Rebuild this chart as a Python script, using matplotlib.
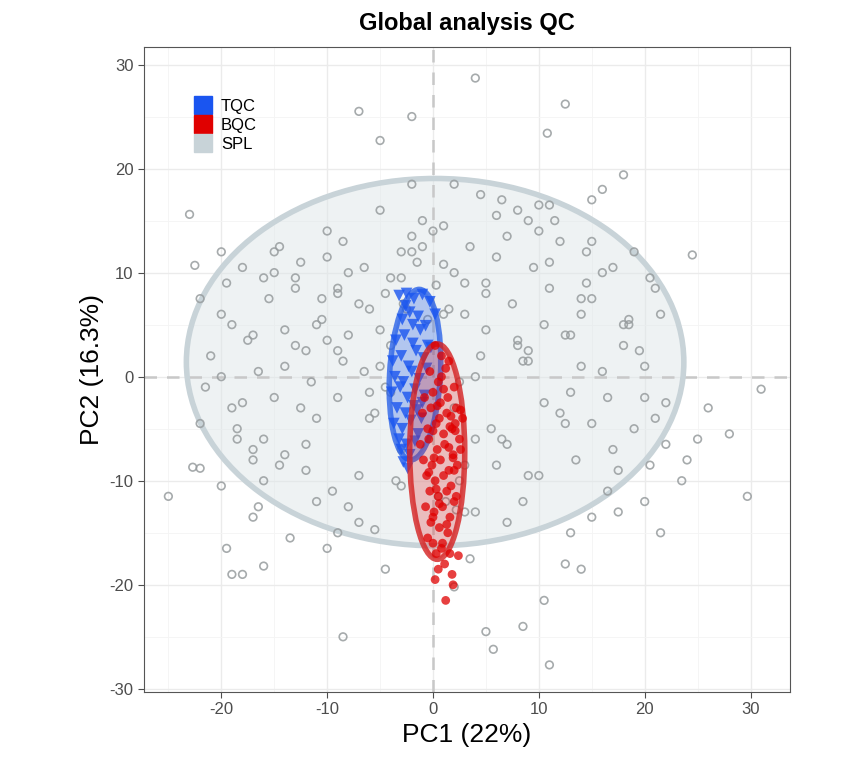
import numpy as np
import matplotlib.pyplot as plt
from matplotlib.patches import Ellipse
from matplotlib.lines import Line2D

plt.rcParams['font.family'] = ['Liberation Sans', 'DejaVu Sans']
plt.rcParams['axes.unicode_minus'] = False

# SPL samples (PC1, PC2)
spl_x = [-25, -23, -22.5, -22, -20, -19, -18, -19.5, -16, -16.5, -17, -8.5, -7, -2, -5, 4, 12.5, 10.8, 16, 18,
         15, 24.5, 21.5, 31, 28, 29.7, 20, 21.5, 10.5, 11, 8.5, 5, 5.7, 2, -4.5, -10, -9, -17, -22.7, -22,
         -20, -16, 24, 22, 25, 23.5, 20.5, 17.5, 14, 12.5, 3.5, -13.5, -5.5, 22, 26, -22,
         -21, -20, -19, -18, -17, -16, -15, -14, -13, -12, -11, -10, -9, -8, -7, -6, -5, -4, -3, -2,
         -21.5, -19.5, -18.5, -17.5, -15.5, -14.5, -12.5, -11.5, -10.5, -9.5, -8.5, -6.5, -5.5, -4.5, -3.5, -1,
         1, 2, 3, 4, 5, 6, 7, 8, 9, 10, 11, 12, 13, 14, 15, 16, 17, 18, 19, 20,
         1.5, 2.5, 3.5, 4.5, 5.5, 6.5, 7.5, 8.5, 9.5, 10.5, 11.5, 12.5, 13.5, 14.5, 16.5, 18.5, 20.5, 21, 19.5, 17.5,
         -20, -18, -16, -14, -12, -10, -8, -6, -4, -2, 0.5, 2, 4, 6, 8, 10, 12, 14, 16, 18,
         -19, -17, -15, -13, -11, -9, -7, -5, -3, 1, 3, 5, 7, 9, 11, 13, 15, 17, 19, 21,
         -18.5, -16.5, -14.5, -12.5, -10.5, -8.5, -6.5, -4.5, -2.5, 0, 2.5, 4.5, 6.5, 8.5, 10.5, 12.5, 14.5, 16.5, 18.5, 20,
         -13, -11, -9, -7, -5, -3, -1, 1, 3, 5, 7, 9, 11, 13, 15, -12, -8, -4, 4, 8,
         -15, -10, -6, -2, 2, 6, 10, 14, -14, -9, -3, 3, 9, 15, -1.5, 1.2, -2.8, 2.2, 0.3, -0.5]
spl_y = [-11.5, 15.6, 10.7, 7.5, 12, -19, -19, -16.5, -18.2, -12.5, -13.5, -25, 25.5, 25, 22.7, 28.7, 26.2, 23.4, 18, 19.4,
         17, 11.7, 6, -1.2, -5.5, -11.5, -12, -15, -21.5, -27.7, -24, -24.5, -26.2, -20.2, -18.5, -16.5, -15, -8, -8.7, -8.8,
         -10.5, -10, -8, -6.5, -6, -10, -8.5, -13, -18.5, -18, -17.5, -15.5, -14.7, -2.5, -3, -4.5,
         2, 6, -3, 10.5, 4, -6, 12, 1, 8.5, -9, 5, 14, -2, 10, 7, -4, 16, 3, -7, 12,
         -1, 9, -5, 3.5, 7.5, -8.5, 11, -0.5, 5.5, -11, 13, 0.5, -3.5, 8, -10, 15,
         14.5, -3, 9, -13, 4.5, 11.5, -6.5, 16, 1.5, -9.5, 8.5, 13, -1.5, 6, -4.5, 10, -7, 3, 12, -2,
         6.5, -10, 12.5, 2, -5, 17, 7, -12, 10.5, -2.5, 15, 4, -8, 9, -11, 5, 9.5, -4, 2.5, -9,
         0, -2.5, 9.5, -7.5, 2.5, 11.5, -12.5, 6.5, -1.5, 13.5, -11.5, 18.5, -6, 15.5, 3.5, 16.5, -3.5, 7.5, 0.5, 5,
         5, -7, 10, 3, -4, 8, -14, 1, 12, 10.8, -8.5, 8, 13.5, -9.5, 11, 4, -13.5, 10.5, -5, 8.5,
         -6, 0.5, 12.5, -3, 7.5, 1.5, 10.5, -1, 6.5, 14, -0.5, 17.5, -6, 1.5, 5, -4.5, 12, -2, 5.5, 1,
         9.5, -12, 2.5, -9.5, 4.5, -10.5, 12.5, 6, -13, 9, -14, 2.5, 16.5, -15, 13, -6.5, 4, 9.5, 0, 3,
         -2, 3.5, -1.5, 18.5, 10, -8.5, 14, 1, 4.5, 8.5, 9.5, 6, 15, 7.5, 11, -12, 7, -12.8, 8.8, 5.5]

# TQC samples
tqc_x = [-3.2, -2.5, -1.8, -1.0, -0.3, 0.2, -2.9, -2.2, -1.4, -0.7, -3.5, -2.7, -1.9, -1.2, -0.5, -3.8, -3.0, -2.3, -1.6, -0.9,
         -3.6, -2.8, -2.0, -1.3, -0.6, -3.9, -3.1, -2.4, -1.7, -1.0, -3.4, -2.6, -1.8, -1.1, -3.7, -2.9, -2.1, -1.4, -3.2, -2.5,
         -1.7, -3.0, -2.2, -2.8, -2.4, -1.5, -0.2, -0.8, -2.6, -1.9]
tqc_y = [7.8, 8.0, 7.5, 7.9, 7.2, 6.0, 5.5, 6.2, 5.8, 4.9, 3.5, 4.0, 3.2, 4.5, 3.0, 1.5, 2.0, 1.0, 2.5, 1.8,
         0.0, -0.5, 0.5, -0.2, 0.8, -1.5, -1.0, -2.0, -1.2, -2.5, -3.0, -3.5, -2.8, -4.0, -4.5, -5.0, -4.2, -5.5, -6.0, -6.5,
         -6.2, -7.0, -7.5, -8.2, -8.8, -3.2, 2.8, -1.8, 6.8, 5.0]

# BQC samples
bqc_x = [0.2, 0.8, 1.5, -0.3, 0.5, 1.2, 2.0, -0.8, 0.0, 0.7, 1.4, 2.2, -1.0, -0.2, 0.6, 1.3, 2.1, 2.8, -0.5, 0.3,
         1.0, 1.8, 2.5, -1.2, -0.4, 0.4, 1.1, 1.9, 2.6, -0.9, -0.1, 0.7, 1.5, 2.3, -0.6, 0.2, 1.0, 1.7, -0.3, 0.5,
         1.3, 2.0, -0.7, 0.1, 0.9, 1.6, -0.2, 0.6, 1.4, 0.0, 0.8, 1.6, 2.4, -0.5, 0.3, 1.1, 0.5, 1.8, 0.2, 1.2,
         1.9, 0.9, 0.0, 1.5, 2.1, 0.4, 1.0, 1.7, 0.1, 0.3, 2.0, 0.8, 1.6, 2.2, 0.0, 1.3, 1.9, 0.6, 2.6, -0.4]
bqc_y = [3.0, 2.0, 1.5, 0.5, -0.5, 0.8, -1.0, -2.0, -1.5, -2.5, -2.0, -3.0, -3.5, -3.0, -4.0, -3.5, -4.5, -4.0, -5.0, -4.5,
         -5.5, -5.0, -6.0, -6.5, -6.0, -7.0, -6.5, -7.5, -7.0, -8.0, -8.5, -8.0, -9.0, -8.5, -9.5, -10.0, -9.5, -10.5, -11.0, -11.5,
         -11.0, -12.0, -12.5, -13.0, -12.5, -13.5, -14.0, -14.5, -15.0, -16.0, -16.5, -17.0, -17.2, -15.5, -17.0, -18.0, -18.5, -19.0, -19.5, -21.5,
         -20.0, -16.0, -13.5, -6.8, -5.2, -2.8, -1.2, -3.8, -7.8, -10.8, -9.0, 0.0, -4.8, -11.5, -5.2, -14.2, -7.8, -12.2, -3.2, -9.2]

fig = plt.figure(figsize=(8.64, 7.68), dpi=100)
ax = fig.add_axes([0.1667, 0.099, 0.7473, 0.84])

# ellipses
ax.add_patch(Ellipse((0.2, 1.4), 47, 35.3, facecolor='#dfe6e9', alpha=0.5, edgecolor='none', zorder=1))
ax.add_patch(Ellipse((0.2, 1.4), 47, 35.3, facecolor='none', edgecolor='#c8d3d8', lw=4, zorder=2))

ax.axhline(0, color='#c8c8c8', ls=(0, (5, 4)), lw=1.8, zorder=1.5)
ax.axvline(0, color='#c8c8c8', ls=(0, (5, 4)), lw=1.8, zorder=1.5)

ax.scatter(spl_x, spl_y, s=30, facecolors='none', edgecolors='#979c9e', linewidths=1.2, alpha=0.85, zorder=3)

ax.add_patch(Ellipse((-1.7, 0.2), 4.8, 16.4, angle=-3, facecolor='#2a62e8', alpha=0.3, edgecolor='none', zorder=4))
ax.add_patch(Ellipse((-1.7, 0.2), 4.8, 16.4, angle=-3, facecolor='none', edgecolor='#2a62e8', alpha=0.8, lw=4, zorder=5))
ax.scatter(tqc_x, tqc_y, s=70, marker='v', color='#1a55f0', alpha=0.8, edgecolors='none', zorder=6)

ax.add_patch(Ellipse((0.4, -7.2), 5.2, 20.7, facecolor='#e02020', alpha=0.25, edgecolor='none', zorder=7))
ax.add_patch(Ellipse((0.4, -7.2), 5.2, 20.7, facecolor='none', edgecolor='#d42020', alpha=0.8, lw=4, zorder=8))
ax.scatter(bqc_x, bqc_y, s=40, marker='o', color='#e00000', alpha=0.75, edgecolors='none', zorder=9)

ax.set_xlim(-27.3, 33.7)
ax.set_ylim(-30.3, 31.7)
ax.set_xticks([-20, -10, 0, 10, 20, 30])
ax.set_yticks([-30, -20, -10, 0, 10, 20, 30])
ax.set_xticks([-25, -15, -5, 5, 15, 25], minor=True)
ax.set_yticks([-25, -15, -5, 5, 15, 25], minor=True)
ax.grid(True, which='major', color='#ebebeb', lw=1)
ax.grid(True, which='minor', color='#f4f4f4', lw=0.6)
ax.set_axisbelow(True)
ax.tick_params(which='minor', length=0)
ax.tick_params(which='major', labelsize=12, colors='#4d4d4d', length=4)
for s in ax.spines.values():
    s.set_color('#555555')
    s.set_linewidth(0.8)

ax.set_xlabel('PC1 (22%)', fontsize=19)
ax.set_ylabel('PC2 (16.3%)', fontsize=19)
ax.set_title('Global analysis QC', fontsize=17, fontweight='bold', pad=12)

handles = [Line2D([], [], marker='s', ls='none', markersize=13, color='#1a55f0'),
           Line2D([], [], marker='s', ls='none', markersize=13, color='#e00000'),
           Line2D([], [], marker='s', ls='none', markersize=13, color='#c8d3d8')]
ax.legend(handles, ['TQC', 'BQC', 'SPL'], loc='upper left', bbox_to_anchor=(0.065, 0.93),
          frameon=False, fontsize=12, handletextpad=0.5, labelspacing=0.25, borderaxespad=0,
          handlelength=1.2)

fig.savefig('out.png', dpi=100)
